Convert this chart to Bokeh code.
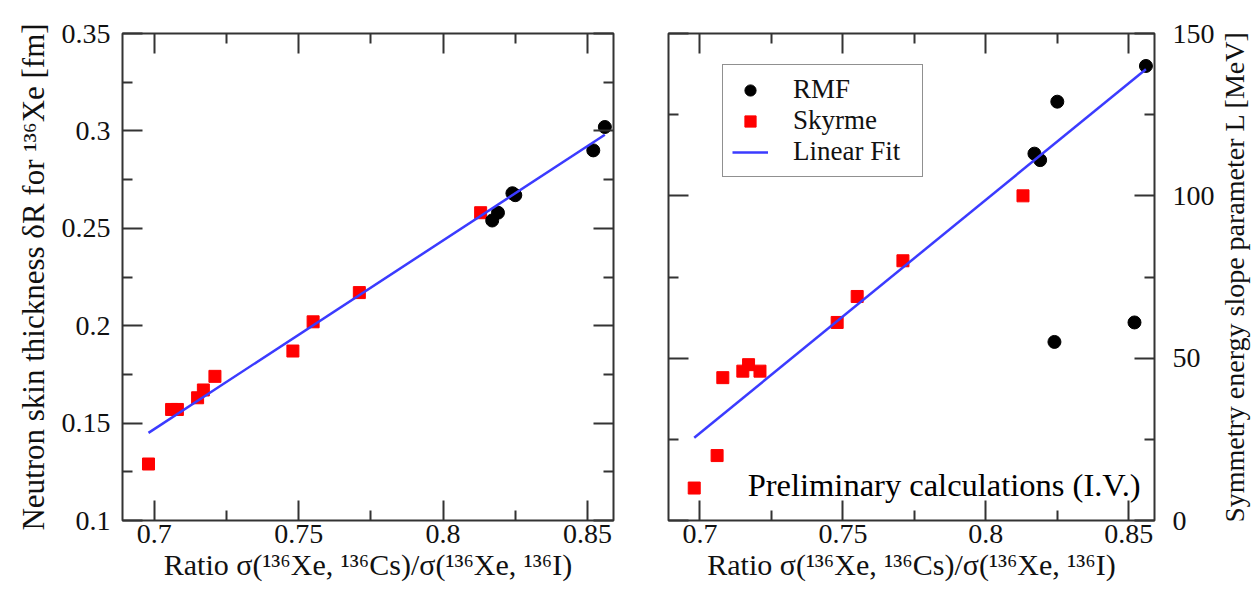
import math
from bokeh.plotting import figure
from bokeh.layouts import row
from bokeh.models import (FixedTicker, CustomJSTickFormatter, LinearAxis, Range1d,
                          Legend, LegendItem, Label)
from bokeh.embed import file_html
from bokeh.resources import INLINE

# ---------------- data ----------------
skyrme_ratio = [0.698, 0.706, 0.708, 0.715, 0.717, 0.721, 0.748, 0.755, 0.771, 0.813]
skyrme_dR = [0.129, 0.157, 0.157, 0.163, 0.167, 0.174, 0.187, 0.202, 0.217, 0.258]
skyrme_L = [10, 20, 44, 46, 48, 46, 61, 69, 80, 100]

rmf_ratio = [0.817, 0.819, 0.824, 0.825, 0.852, 0.856]
rmf_dR = [0.254, 0.258, 0.268, 0.267, 0.290, 0.302]
rmf_L = [113, 111, 55, 129, 61, 140]

fit_ratio = [0.698, 0.856]
fit_dR = [0.145, 0.298]
fit_L = [25.5, 139.0]

x_ticks = [0.7, 0.75, 0.8, 0.85]
x_minor = [0.725, 0.775, 0.825]
dR_ticks = [0.1, 0.15, 0.2, 0.25, 0.3, 0.35]
dR_minor = [0.125, 0.175, 0.225, 0.275, 0.325]
L_ticks = [0, 50, 100, 150]
L_minor = [25, 75, 125]

x_title = "Ratio σ(¹³⁶Xe, ¹³⁶Cs)/σ(¹³⁶Xe, ¹³⁶I)"
dR_title = "Neutron skin thickness δR for ¹³⁶Xe [fm]"
L_title = "Symmetry energy slope parameter L [MeV]"
note_text = "Preliminary calculations (I.V.)"

FONT = "Liberation Serif"
TICKC = "#333333"
FMT = "return String(tick);"


def style_axis(ax, ticks, minor, labels):
    ax.ticker = FixedTicker(ticks=ticks, minor_ticks=minor)
    ax.axis_line_color = None
    ax.major_tick_in = 20
    ax.major_tick_out = 0
    ax.minor_tick_in = 10
    ax.minor_tick_out = 0
    ax.major_tick_line_color = TICKC
    ax.minor_tick_line_color = TICKC
    ax.major_tick_line_width = 2
    ax.minor_tick_line_width = 2
    ax.major_label_text_font = FONT
    if labels:
        ax.formatter = CustomJSTickFormatter(code=FMT)
        ax.major_label_text_font_size = "28px"
        ax.major_label_text_color = "#111111"
    else:
        ax.formatter = CustomJSTickFormatter(code="return '';")
        ax.major_label_text_font_size = "1px"
        ax.major_label_standoff = 0
    ax.axis_label_text_font = FONT
    ax.axis_label_text_font_size = "30px"
    ax.axis_label_text_font_style = "normal"
    ax.axis_label_text_color = "#111111"


def make_fig(y_range, fw, bl, br, yloc):
    p = figure(frame_width=fw, frame_height=487,
               x_range=Range1d(0.689, 0.859), y_range=y_range,
               output_backend="svg", toolbar_location=None,
               y_axis_location=yloc,
               min_border_left=bl, min_border_right=br,
               min_border_top=33, min_border_bottom=84)
    p.grid.visible = False
    p.outline_line_color = TICKC
    p.outline_line_width = 2
    p.background_fill_color = "white"
    p.border_fill_color = "white"
    return p


# ---------------- left panel ----------------
p1 = make_fig(Range1d(0.1, 0.35), 491, 122, 27, "left")
style_axis(p1.xaxis[0], x_ticks, x_minor, True)
p1.xaxis[0].major_label_standoff = 4
p1.xaxis[0].axis_label = x_title
p1.xaxis[0].axis_label_standoff = 2
style_axis(p1.yaxis[0], dR_ticks, dR_minor, True)
p1.yaxis[0].major_label_standoff = 12
p1.yaxis[0].axis_label = dR_title
p1.yaxis[0].axis_label_text_font_size = "31px"
p1.yaxis[0].axis_label_standoff = 8
top1 = LinearAxis()
style_axis(top1, x_ticks, x_minor, False)
p1.add_layout(top1, "above")
right1 = LinearAxis()
style_axis(right1, dR_ticks, dR_minor, False)
p1.add_layout(right1, "right")

p1.scatter(skyrme_ratio, skyrme_dR, marker="square", size=12, color="#ff0000")
p1.scatter(rmf_ratio, rmf_dR, marker="circle", size=13, color="#000000")
p1.line(fit_ratio, fit_dR, line_color="#3b3bff", line_width=2.5)

# ---------------- right panel ----------------
p2 = make_fig(Range1d(0, 150), 486, 28, 62, "right")
style_axis(p2.xaxis[0], x_ticks, x_minor, True)
p2.xaxis[0].major_label_standoff = 4
p2.xaxis[0].axis_label = x_title
p2.xaxis[0].axis_label_standoff = 2
style_axis(p2.yaxis[0], L_ticks, L_minor, True)
p2.yaxis[0].major_label_standoff = 18
top2 = LinearAxis()
style_axis(top2, x_ticks, x_minor, False)
p2.add_layout(top2, "above")
left2 = LinearAxis()
style_axis(left2, L_ticks, L_minor, False)
p2.add_layout(left2, "left")

sq = p2.scatter(skyrme_ratio, skyrme_L, marker="square", size=12, color="#ff0000")
ci = p2.scatter(rmf_ratio, rmf_L, marker="circle", size=13, color="#000000")
ln = p2.line(fit_ratio, fit_L, line_color="#3b3bff", line_width=2.5)

legend = Legend(items=[LegendItem(label="RMF", renderers=[ci]),
                       LegendItem(label="Skyrme", renderers=[sq]),
                       LegendItem(label="Linear Fit", renderers=[ln])],
                location=(54, 343), orientation="vertical",
                label_text_font=FONT, label_text_font_size="27px",
                label_text_color="#111111",
                border_line_color="#222222", border_line_width=1.5,
                background_fill_color="white", background_fill_alpha=1.0,
                padding=9, spacing=0, glyph_width=36, glyph_height=28,
                label_standoff=25, label_width=120, margin=0)
p2.add_layout(legend, "center")

p2.add_layout(Label(x=0.7167, y=11, text=note_text, text_font=FONT,
                    text_font_size="32.5px", text_color="#000000",
                    text_baseline="middle", text_align="left"))

# ---------------- strip holding the right-hand axis title ----------------
p3 = figure(width=38, height=604, x_range=Range1d(0, 1), y_range=Range1d(0, 1),
            output_backend="svg", toolbar_location=None,
            x_axis_location=None, y_axis_location=None, min_border=0)
p3.grid.visible = False
p3.outline_line_color = None
p3.background_fill_color = "white"
p3.border_fill_color = "white"
p3.add_layout(Label(x=0.45, y=0.5, angle=math.pi / 2, text=L_title,
                    text_font=FONT, text_font_size="28px", text_color="#111111",
                    text_align="center", text_baseline="middle"))

layout = row(p1, p2, p3, spacing=0)
open("out.html", "w").write(file_html(layout, INLINE))
